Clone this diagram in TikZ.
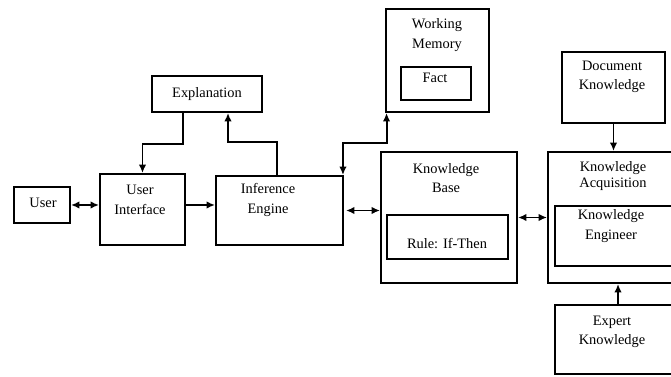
\documentclass[tikz,border=0pt]{standalone}
\usepackage{fontspec}
\setmainfont{Liberation Serif}
\usetikzlibrary{arrows.meta,fit}
\begin{document}
\begin{tikzpicture}[x=0.02cm,y=-0.02cm,
  box/.style={draw,line width=1.1pt,inner sep=0pt},
  thinbox/.style={draw,line width=0.6pt,inner sep=0pt},
  txt/.style={align=center,inner sep=0pt,font=\fontsize{8.2}{10.5}\selectfont},
  conn/.style={line width=1.1pt,arrows={-Latex[length=1.7mm,width=1.5mm]}},
  dconn/.style={line width=1.1pt,arrows={Latex[length=1.7mm,width=1.5mm]-Latex[length=1.7mm,width=1.5mm]}}]
\useasboundingbox (0,0) rectangle (671,377);
\clip (0,0) rectangle (671,377);
% boxes
\node[box,fit={(14,187)(70,223)}] (user) {};
\node[box,fit={(100,174)(185,245)}] (ui) {};
\node[box,fit={(216,176)(343,245)}] (ie) {};
\node[box,fit={(152,76)(262,112)}] (expl) {};
\node[box,fit={(386,9)(489,112)}] (wm) {};
\node[thinbox,fit={(401,67)(471,100)}] (fact) {};
\node[box,fit={(381,152)(517,283)}] (kb) {};
\node[thinbox,fit={(387,215)(508,259)}] (rule) {};
\node[box,fit={(548,152)(690,283)}] (ka) {};
\node[box,fit={(555,206)(690,266)}] (ke) {};
\node[box,fit={(562,52)(665,123)}] (dk) {};
\node[box,fit={(555,305)(690,374)}] (ek) {};
% texts
\node[txt] (tuser) at (43,203) {User};
\node[txt,font=\fontsize{8.2}{11}\selectfont] (tui) at (140,200) {User\\Interface};
\node[txt,font=\fontsize{8.2}{11}\selectfont] (tie) at (268,200) {Inference\\Engine};
\node[txt] (texpl) at (207,94) {Explanation};
\node[txt,font=\fontsize{8.2}{11}\selectfont] (twm) at (437,35) {Working\\Memory};
\node[txt] (tfact) at (435,78) {Fact};
\node[txt] (tdk) at (612,77) {Document\\Knowledge};
\node[txt,font=\fontsize{8.2}{11}\selectfont] (tkb) at (446,178) {Knowledge\\Base};
\node[txt] (trule) at (447,244) {Rule: If-Then};
\node[txt,font=\fontsize{8.2}{9.5}\selectfont] (tka) at (613,176) {Knowledge\\Acquisition};
\node[txt,font=\fontsize{8.2}{11.5}\selectfont] (tke) at (611,226) {Knowledge\\Engineer};
\node[txt] (tek) at (612,332) {Expert\\Knowledge};
% connectors
\draw[dconn] (user.east) -- (user.east -| ui.west);
\draw[conn] (ui.east |- user.east) -- (ie.west |- user.east);
\draw[conn] ([xshift=-0.48cm]expl.south) -- ++(0,31) -| (ui.north);
\draw[conn] ([xshift=-0.05cm]ie.north) -- ++(0,-33) -| ([xshift=0.42cm]expl.south);
\draw[dconn] ([xshift=-0.02cm]ie.north east) -- ++(0,-32) -| ([xshift=0.03cm]wm.south west);
\draw[dconn] ([xshift=0.04cm]ie.east) -- (ie.east -| kb.west);
\draw[dconn] (kb.east) -- (ka.west);
\draw[conn] (dk.south) -- (dk.south |- ka.north);
\draw[conn] ([xshift=-0.09cm]ek.north) -- ([xshift=-0.09cm]ek.north |- ka.south);
\end{tikzpicture}
\end{document}
